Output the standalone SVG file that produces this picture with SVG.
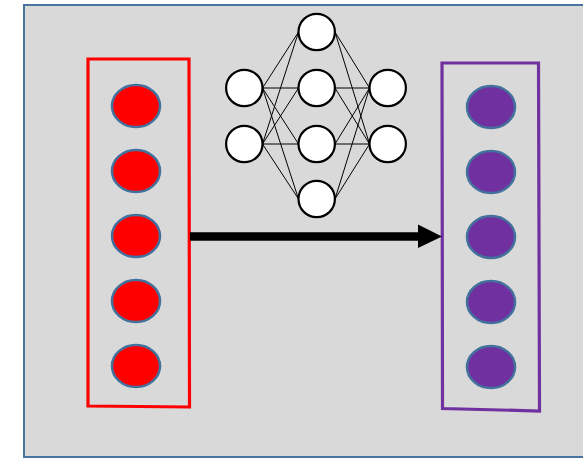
<svg xmlns="http://www.w3.org/2000/svg" width="583" height="458" viewBox="0 0 583 458">
<style>
.bg{fill:#d9d9d9;stroke:#4a73a0;stroke-width:2}
.rin{fill:#ff0000;stroke:#41719c;stroke-width:2.5}
.pin{fill:#7030a0;stroke:#41719c;stroke-width:2.5}
.nn{fill:#ffffff;stroke:#000000;stroke-width:2.2}
.edge{stroke:#000000;stroke-width:1;fill:none}
</style>
<rect class="bg" x="24" y="5" width="600" height="452"/>
<g id="input-box">
<polygon points="88,59 189,59 189.5,407 88,406" fill="none" stroke="#ff0000" stroke-width="3.2"/>
<ellipse class="rin" cx="136" cy="106" rx="24" ry="21"/>
<ellipse class="rin" cx="136" cy="171" rx="24" ry="21"/>
<ellipse class="rin" cx="136" cy="236" rx="24" ry="21"/>
<ellipse class="rin" cx="136" cy="301" rx="24" ry="21"/>
<ellipse class="rin" cx="136" cy="366" rx="24" ry="21"/>
</g>
<g id="output-box">
<polygon points="442,63 538.5,63 539.5,411 442.5,408.5" fill="none" stroke="#7030a0" stroke-width="3.2"/>
<ellipse class="pin" cx="491" cy="107" rx="24" ry="21"/>
<ellipse class="pin" cx="491" cy="172" rx="24" ry="21"/>
<ellipse class="pin" cx="491" cy="237" rx="24" ry="21"/>
<ellipse class="pin" cx="491" cy="302" rx="24" ry="21"/>
<ellipse class="pin" cx="491" cy="367" rx="24" ry="21"/>
</g>
<g id="connectors">
<line x1="190" y1="236.5" x2="420" y2="236.5" stroke="#000000" stroke-width="8.5"/>
<polygon points="418,224.5 442,236.5 418,248" fill="#000000"/>
<g class="edge">
<path d="M262.5,88 L298.5,32 M262.5,88 L298.5,88 M262.5,88 L298.5,144 M262.5,88 L298.5,199"/>
<path d="M262.5,144 L298.5,32 M262.5,144 L298.5,88 M262.5,144 L298.5,144 M262.5,144 L298.5,199"/>
<path d="M335,32 L369.5,88 M335,88 L369.5,88 M335,144 L369.5,88 M335,199 L369.5,88"/>
<path d="M335,32 L369.5,144 M335,88 L369.5,144 M335,144 L369.5,144 M335,199 L369.5,144"/>
</g>
</g>
<g id="neural-net">
<circle class="nn" cx="244.3" cy="88" r="18.2"/>
<circle class="nn" cx="244.3" cy="144" r="18.2"/>
<circle class="nn" cx="316.7" cy="32" r="18.2"/>
<circle class="nn" cx="316.7" cy="88" r="18.2"/>
<circle class="nn" cx="316.7" cy="144" r="18.2"/>
<circle class="nn" cx="316.7" cy="199" r="18.2"/>
<circle class="nn" cx="387.7" cy="88" r="18.2"/>
<circle class="nn" cx="387.7" cy="144" r="18.2"/>
</g>
</svg>
